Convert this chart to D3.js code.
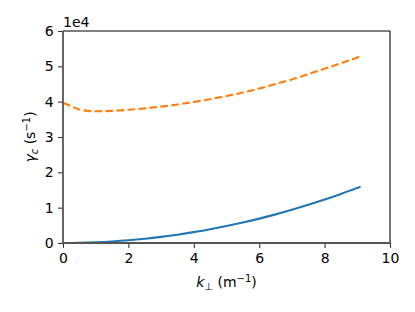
<!DOCTYPE html>
<html>
<head>
<meta charset="utf-8">
<script src="https://cdn.jsdelivr.net/npm/d3@7"></script>
<style>
  body { margin: 0; background: #fff; }
  svg { display: block; font-family: "DejaVu Sans", sans-serif; }
</style>
</head>
<body>
<div id="chart"></div>
<script>
const width = 415;
const height = 312;
const margin = {top: 31, right: 25, bottom: 69, left: 63};

// values (gamma in units of 1e4 s^-1)
const kPerp = [0, 0.25, 0.5, 0.75, 1, 1.5, 2, 2.5, 3, 3.5, 4, 4.5, 5, 5.5, 6, 6.5, 7, 7.5, 8, 8.5, 9, 9.1];
const gammaSolid = [0, 0.001, 0.005, 0.011, 0.02, 0.044, 0.077, 0.12, 0.173, 0.235, 0.307, 0.39, 0.48, 0.58, 0.69, 0.81, 0.94, 1.08, 1.23, 1.39, 1.56, 1.59];
const gammaDashed = [3.97, 3.87, 3.78, 3.74, 3.73, 3.74, 3.77, 3.81, 3.86, 3.92, 3.99, 4.07, 4.16, 4.26, 4.37, 4.5, 4.63, 4.78, 4.93, 5.09, 5.25, 5.29];
const xTicks = [0, 2, 4, 6, 8, 10];
const yTicks = [0, 1, 2, 3, 4, 5, 6];

const fontSize = 14;
const tickLen = 4.9;

const svg = d3.select('#chart')
  .append('svg')
  .attr('width', width)
  .attr('height', height);

const x = d3.scaleLinear().domain([0, 10]).range([margin.left, width - margin.right]);
const y = d3.scaleLinear().domain([0, 6]).range([height - margin.bottom, margin.top]);

const plot = svg.append('g');

const line = ys => d3.line()
  .x((d, i) => x(kPerp[i]))
  .y(d => y(d))
  .curve(d3.curveMonotoneX)(ys);

plot.append('path')
  .attr('d', line(gammaSolid))
  .attr('fill', 'none')
  .attr('stroke', '#1f77b4')
  .attr('stroke-width', 2.1);

plot.append('path')
  .attr('d', line(gammaDashed))
  .attr('fill', 'none')
  .attr('stroke', '#ff7f0e')
  .attr('stroke-width', 2.1)
  .attr('stroke-dasharray', '7.7,3.3');

// axes
const xAxis = svg.append('g')
  .attr('transform', `translate(0,${y(0)})`)
  .call(d3.axisBottom(x).tickValues(xTicks).tickSize(tickLen).tickPadding(3.5).tickFormat(d3.format('d')));

const yAxis = svg.append('g')
  .attr('transform', `translate(${x(0)},0)`)
  .call(d3.axisLeft(y).tickValues(yTicks).tickSize(tickLen).tickPadding(4.5).tickFormat(d3.format('d')));

[xAxis, yAxis].forEach(a => {
  a.select('.domain').remove();
  a.selectAll('.tick line').attr('stroke', '#333').attr('stroke-width', 1.1);
  a.selectAll('.tick text')
    .attr('fill', '#000')
    .style('font-family', '"DejaVu Sans", sans-serif')
    .style('font-size', fontSize + 'px');
});
xAxis.selectAll('.tick text').attr('dy', '0.8em');

// spines
const x0 = x(0), x1 = x(10), y0 = y(0), y1 = y(6);
svg.append('line').attr('x1', x0).attr('x2', x1).attr('y1', y1).attr('y2', y1)
  .attr('stroke', '#000').attr('stroke-width', 1.1);
svg.append('line').attr('x1', x1).attr('x2', x1).attr('y1', y1).attr('y2', y0)
  .attr('stroke', '#000').attr('stroke-width', 1.1);
svg.append('line').attr('x1', x0).attr('x2', x0).attr('y1', y1).attr('y2', y0)
  .attr('stroke', '#555').attr('stroke-width', 1.8);
svg.append('line').attr('x1', x0).attr('x2', x1).attr('y1', y0).attr('y2', y0)
  .attr('stroke', '#555').attr('stroke-width', 1.8);

// offset label
svg.append('text')
  .attr('x', x0)
  .attr('y', y1 - 4.5)
  .style('font-size', fontSize + 'px')
  .text('1e4');

// x label
const xl = svg.append('text')
  .attr('x', (x0 + x1) / 2)
  .attr('y', 287)
  .attr('text-anchor', 'middle')
  .style('font-size', fontSize + 'px');
xl.append('tspan').style('font-style', 'italic').text('k');
xl.append('tspan').attr('dy', 3).style('font-size', '10px').text('⊥');
xl.append('tspan').attr('dy', -3).text(' (m');
xl.append('tspan').attr('dy', -5.5).style('font-size', '10px').text('−1');
xl.append('tspan').attr('dy', 5.5).text(')');

// y label
const yl = svg.append('text')
  .attr('transform', `translate(35,${(y0 + y1) / 2}) rotate(-90)`)
  .attr('text-anchor', 'middle')
  .style('font-size', fontSize + 'px');
yl.append('tspan').style('font-style', 'italic').text('γ');
yl.append('tspan').attr('dy', 3).style('font-size', '10px').style('font-style', 'italic').text('c');
yl.append('tspan').attr('dy', -3).text(' (s');
yl.append('tspan').attr('dy', -5.5).style('font-size', '10px').text('−1');
yl.append('tspan').attr('dy', 5.5).text(')');
</script>
</body>
</html>
